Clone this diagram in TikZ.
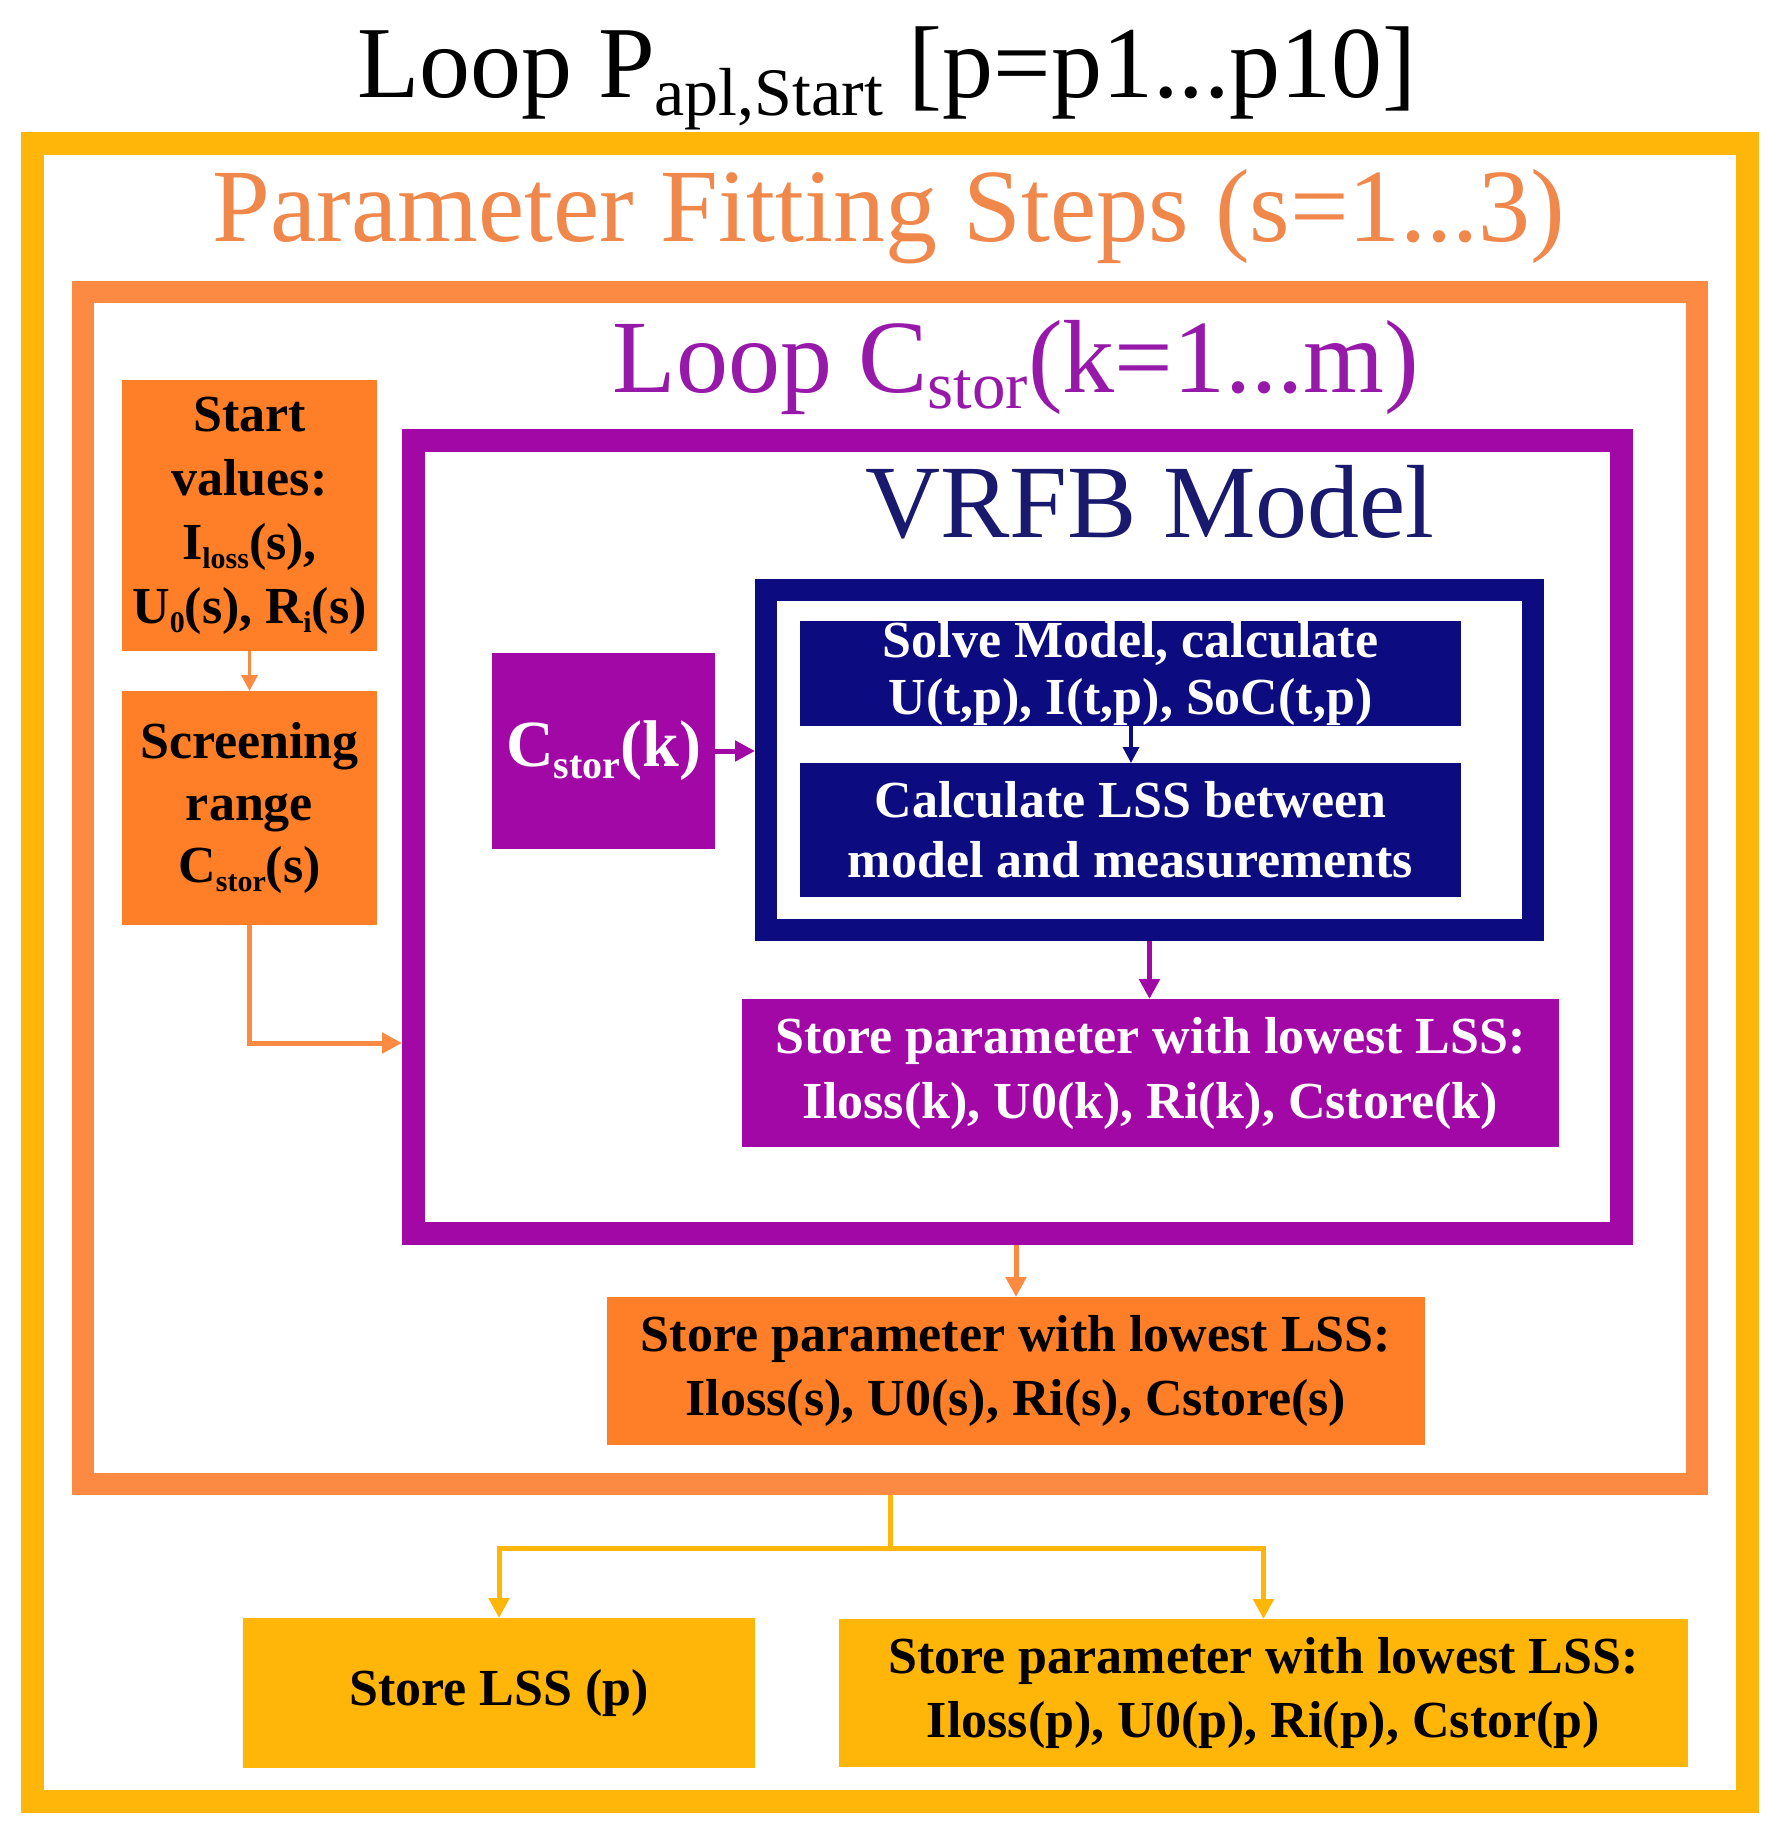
\documentclass[tikz,border=0pt]{standalone}
\usepackage{fontspec}
\setmainfont{Liberation Serif}
\usetikzlibrary{arrows.meta}
\definecolor{ycol}{RGB}{255,182,8}
\definecolor{oframe}{RGB}{252,138,66}
\definecolor{otext}{RGB}{240,135,75}
\definecolor{obox}{RGB}{254,127,40}
\definecolor{pcol}{RGB}{161,8,166}
\definecolor{ptext}{RGB}{150,25,170}
\definecolor{ncol}{RGB}{12,12,128}
\definecolor{ntext}{RGB}{25,25,110}
\newcommand{\subtx}[1]{\raisebox{-9pt}{\fontsize{30}{30}\selectfont #1}}
\begin{document}
\begin{tikzpicture}[x=1pt,y=-1pt,
  bigtxt/.style={anchor=base, inner sep=0, font=\fontsize{104}{110}\selectfont},
  frm/.style={draw, inner sep=0, fill=none},
  boxn/.style={inner sep=0, outer sep=0, align=center, font=\bfseries\fontsize{52}{62}\selectfont},
  conn/.style={line width=5pt, -{Triangle[length=20pt,width=20pt]}},
  thinconn/.style={line width=3.5pt, -{Triangle[length=16pt,width=16pt]}}
]
\useasboundingbox (0,0) rectangle (1783,1834);

% titles
\node[bigtxt, font=\fontsize{102}{108}\selectfont] (title) at (887,97)
  {Loop P{\fontsize{68}{70}\selectfont\raisebox{-18pt}{apl,Start}} [p=p1...p10]};

% frames
\node[frm, draw=ycol, line width=23pt, minimum width=1715pt, minimum height=1658pt] (yframe) at (890,972.5) {};
\node[bigtxt, text=otext] (pfs) at (889,241) {Parameter Fitting Steps (s=1...3)};
\node[frm, draw=oframe, line width=22pt, minimum width=1614pt, minimum height=1192pt] (oframe) at (890,888) {};
\node[bigtxt, text=ptext] (lcs) at (1016,392)
  {Loop C{\fontsize{67}{70}\selectfont\raisebox{-16pt}{stor}}(k=1...m)};
\node[frm, draw=pcol, line width=23pt, minimum width=1208pt, minimum height=793pt] (pframe) at (1017.5,837) {};
\node[bigtxt, text=ntext] (vrfb) at (1150,537) {VRFB Model};
\node[frm, draw=ncol, line width=22pt, minimum width=767pt, minimum height=340pt] (nframe) at (1149.5,760) {};

% left orange boxes
\node[boxn, fill=obox, minimum width=255pt, minimum height=271pt, font=\bfseries\fontsize{52}{64}\selectfont] (start) at (249.5,515.5)
  {Start\\values:\\I\subtx{loss}(s),\\U\subtx{0}(s), R\subtx{i}(s)};
\node[boxn, fill=obox, minimum width=255pt, minimum height=234pt] (scr) at (249.5,808)
  {Screening\\range\\C\subtx{stor}(s)};

% C_stor(k)
\node[boxn, fill=pcol, text=white, minimum width=223pt, minimum height=196pt, font=\bfseries\fontsize{66}{70}\selectfont] (ck) at (603.5,751)
  {C\raisebox{-12pt}{\fontsize{40}{40}\selectfont stor}(k)};

% navy boxes
\node[boxn, fill=ncol, text=white, minimum width=661pt, minimum height=103pt, font=\bfseries\fontsize{52}{57}\selectfont] (solve) at (1130.5,673.5)
  {Solve Model, calculate\\U(t,p), I(t,p), SoC(t,p)};
\node[boxn, fill=ncol, text=white, minimum width=661pt, minimum height=134pt, font=\bfseries\fontsize{52}{60}\selectfont] (lss) at (1130.5,830)
  {Calculate LSS between\\model and measurements};

% store boxes
\node[boxn, fill=pcol, text=white, minimum width=817pt, minimum height=148pt, font=\bfseries\fontsize{52}{65}\selectfont] (pstore) at (1150.5,1073)
  {Store parameter with lowest LSS:\\Iloss(k), U0(k), Ri(k), Cstore(k)};
\node[boxn, fill=obox, minimum width=818pt, minimum height=148pt, font=\bfseries\fontsize{52}{64}\selectfont] (ostore) at (1016,1371)
  {Store parameter with lowest LSS:\\Iloss(s), U0(s), Ri(s), Cstore(s)};
\node[boxn, fill=ycol, minimum width=512pt, minimum height=150pt] (ylss) at (499,1693)
  {Store LSS (p)};
\node[boxn, fill=ycol, minimum width=849pt, minimum height=148pt, font=\bfseries\fontsize{52}{64}\selectfont] (ypar) at (1263.5,1693)
  {Store parameter with lowest LSS:\\Iloss(p), U0(p), Ri(p), Cstor(p)};

% connectors
\draw[thinconn, draw=oframe] (start.south) -- (scr.north);
\coordinate (pin) at (pframe.west |- 0,1043);
\draw[conn, draw=oframe] (scr.south) |- (pin);
\draw[conn, draw=pcol] (ck.east) -- (ck.east -| nframe.west);
\draw[thinconn, draw=ncol] (solve.south -| 1131,0) -- (lss.north -| 1131,0);
\draw[conn, draw=pcol] (nframe.south) -- (nframe.south |- pstore.north);
\draw[conn, draw=oframe] (pframe.south -| ostore.north) -- (ostore.north);
\coordinate (split) at (oframe.south |- 0,1548);
\draw[line width=5pt, draw=ycol] (oframe.south) -- (split);
\draw[conn, draw=ycol] (split) -| (ylss.north);
\draw[conn, draw=ycol] (split) -| (ypar.north);
\end{tikzpicture}
\end{document}
